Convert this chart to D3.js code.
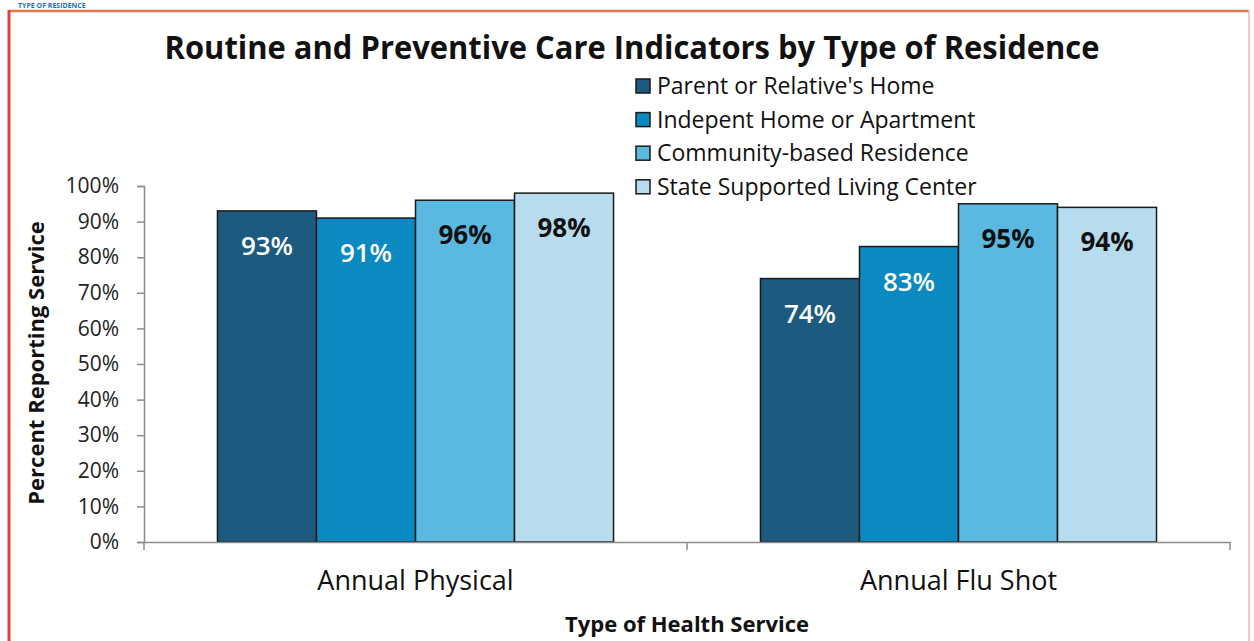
<!DOCTYPE html>
<html><head><meta charset="utf-8">
<script src="https://cdn.jsdelivr.net/npm/d3@7"></script>
<style>html,body{margin:0;padding:0;background:#fff;}svg{display:block;}</style>
</head><body>
<script>
const categories = ["Annual Physical", "Annual Flu Shot"];
const seriesNames = ["Parent or Relative's Home", "Indepent Home or Apartment", "Community-based Residence", "State Supported Living Center"];
const parentHome = [0.93, 0.74];
const independentHome = [0.91, 0.83];
const communityResidence = [0.96, 0.95];
const stateCenter = [0.98, 0.94];
const yTicks = [0, 0.1, 0.2, 0.3, 0.4, 0.5, 0.6, 0.7, 0.8, 0.9, 1.0];
const colors = ["#1c5a80", "#0a8ac0", "#5bb9e1", "#b6dcee"];
const labelColors = ["#ffffff", "#ffffff", "#111111", "#111111"];
const seriesValues = [parentHome, independentHome, communityResidence, stateCenter];

const W = 1254, H = 641;
const svg = d3.select("body").append("svg").attr("width", W).attr("height", H);
const font = "'Open Sans', 'DejaVu Sans', sans-serif";

// page header fragment & border
svg.append("text").attr("x", 18).attr("y", 8).attr("font-family", font).attr("font-weight", 700)
  .attr("font-size", 7).attr("fill", "#1f6fb5").text("TYPE OF RESIDENCE");
svg.append("line").attr("x1", 9).attr("x2", 1249).attr("y1", 11).attr("y2", 11).attr("stroke", "#e8764e").attr("stroke-width", 2.5);
svg.append("line").attr("x1", 9).attr("x2", 9).attr("y1", 10).attr("y2", H).attr("stroke", "#e0403f").attr("stroke-width", 3);
svg.append("line").attr("x1", 1249).attr("x2", 1249).attr("y1", 10).attr("y2", H).attr("stroke", "#f1b9b6").attr("stroke-width", 1.5);

// title
svg.append("text").attr("x", 632).attr("y", 59).attr("text-anchor", "middle")
  .attr("font-family", font).attr("font-weight", 700).attr("font-size", 32).attr("fill", "#111")
  .attr("textLength", 935).attr("lengthAdjust", "spacingAndGlyphs")
  .text("Routine and Preventive Care Indicators by Type of Residence");

const x0 = d3.scaleBand().domain(categories).range([144, 1230]).paddingInner(0).paddingOuter(0);
const x1 = d3.scaleBand().domain(d3.range(4)).range([0, x0.bandwidth()]).paddingOuter(0.742).paddingInner(0);
const y = d3.scaleLinear().domain([0, 1]).range([542, 186]);

// y axis
const yAxis = d3.axisLeft(y).tickValues(yTicks).tickFormat(d3.format(".0%")).tickSizeOuter(0).tickSize(7).tickPadding(18);
const gy = svg.append("g").attr("transform", "translate(144,0)").call(yAxis);
gy.selectAll("path,line").attr("stroke", "#8c8c8c").attr("stroke-width", 1.5);
gy.selectAll("text").attr("font-family", font).attr("font-size", 21).attr("fill", "#222");

// bars
const groups = svg.append("g").selectAll("g").data(categories).join("g")
  .attr("transform", d => `translate(${x0(d)},0)`);
groups.each(function(cat, ci) {
  const g = d3.select(this);
  seriesValues.forEach((vals, si) => {
    const v = vals[ci];
    g.append("rect").attr("x", x1(si)).attr("y", y(v)).attr("width", x1.bandwidth()).attr("height", y(0) - y(v))
      .attr("fill", colors[si]).attr("stroke", "#1a1a1a").attr("stroke-width", 1.5);
    g.append("text").attr("x", x1(si) + x1.bandwidth() / 2).attr("y", y(v) + 44)
      .attr("text-anchor", "middle").attr("font-family", font).attr("font-size", 26)
      .attr("font-weight", si >= 2 ? 700 : 600)
      .attr("fill", labelColors[si]).text(d3.format(".0%")(v));
  });
});

// x axis
const xAxis = d3.axisBottom(x0).tickSize(0).tickPadding(29);
const gx = svg.append("g").attr("transform", "translate(0,542)").call(xAxis);
gx.select("path").attr("stroke", "#8c8c8c").attr("stroke-width", 1.5);
gx.selectAll("text").attr("font-family", font).attr("font-size", 27).attr("fill", "#111");
// category boundary ticks
const bounds = [x0.range()[0], x0(categories[1]), x0.range()[1]];
svg.append("g").selectAll("line").data(bounds).join("line")
  .attr("x1", d => d).attr("x2", d => d).attr("y1", 542).attr("y2", 550)
  .attr("stroke", "#8c8c8c").attr("stroke-width", 1.5);

// axis titles
svg.append("text").attr("x", 687).attr("y", 632).attr("text-anchor", "middle")
  .attr("font-family", font).attr("font-weight", 700).attr("font-size", 22).attr("fill", "#111")
  .text("Type of Health Service");
svg.append("text").attr("transform", "translate(44,363) rotate(-90)").attr("text-anchor", "middle")
  .attr("font-family", font).attr("font-weight", 700).attr("font-size", 22).attr("fill", "#111")
  .text("Percent Reporting Service");

// legend
const leg = svg.append("g").selectAll("g").data(seriesNames).join("g")
  .attr("transform", (d, i) => `translate(636,${86 + i * 33.6})`);
leg.append("rect").attr("x", 0).attr("y", -7).attr("width", 14).attr("height", 14)
  .attr("fill", (d, i) => colors[i]).attr("stroke", "#1a1a1a").attr("stroke-width", 1.5);
leg.append("text").attr("x", 21).attr("y", 8).attr("font-family", font).attr("font-size", 23).attr("fill", "#111")
  .text(d => d);
</script>
</body></html>
